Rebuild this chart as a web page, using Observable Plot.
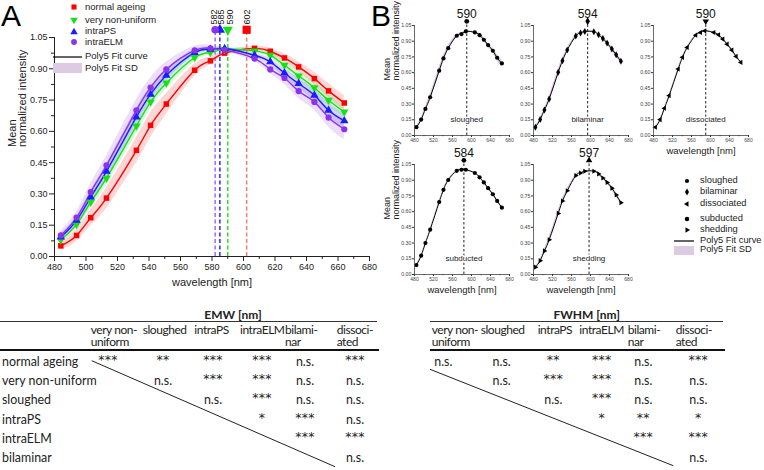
<!DOCTYPE html>
<html><head><meta charset="utf-8">
<script src="https://cdn.jsdelivr.net/npm/d3@7"></script>
<script src="https://cdn.jsdelivr.net/npm/@observablehq/plot@0.6"></script>
<style>
body{margin:0;background:#fff;}
#root{position:relative;width:764px;height:470px;overflow:hidden;font-family:"Liberation Sans",Arial,sans-serif;color:#111;}
#root > *{position:absolute;}
.tbl{font-family:Lato,"Open Sans",sans-serif;font-size:12.4px;color:#222;white-space:nowrap;}
.hdr{font-family:Lato,"Open Sans",sans-serif;font-size:12px;color:#222;white-space:pre;letter-spacing:-0.45px;line-height:12px;}
.star{font-family:"DejaVu Sans",sans-serif;font-size:12.5px;color:#222;white-space:nowrap;letter-spacing:0.2px;}
</style></head><body><div id="root"></div>
<script>
// ---------------- DATA ----------------
const wavelengths = [484,494,503,513,532,541,551,569,579,588,607,617,626,635,645,654,664];

// Panel A
const namesA = ["normal ageing","very non-uniform","intraPS","intraELM"];
const normalAgeing    = [0.051,0.101,0.186,0.280,0.509,0.629,0.731,0.893,0.938,0.975,0.998,0.984,0.952,0.909,0.853,0.794,0.736];
const veryNonUniform  = [0.080,0.154,0.261,0.376,0.626,0.741,0.832,0.954,0.978,0.993,0.986,0.965,0.917,0.866,0.809,0.749,0.693];
const intraPS         = [0.093,0.173,0.285,0.408,0.669,0.778,0.869,0.978,0.993,0.997,0.965,0.933,0.880,0.829,0.773,0.701,0.650];
const intraELM        = [0.101,0.186,0.309,0.437,0.701,0.810,0.897,0.988,0.998,0.990,0.949,0.897,0.856,0.793,0.741,0.666,0.610];
const normalAgeingSD   = [0.020,0.030,0.040,0.050,0.060,0.060,0.050,0.030,0.020,0.012,0.010,0.015,0.020,0.025,0.030,0.035,0.035];
const veryNonUniformSD = [0.015,0.020,0.030,0.035,0.040,0.035,0.030,0.020,0.010,0.006,0.010,0.015,0.020,0.025,0.030,0.030,0.030];
const intraPSSD        = [0.015,0.020,0.030,0.035,0.040,0.035,0.030,0.015,0.010,0.006,0.010,0.015,0.020,0.025,0.030,0.035,0.035];
const intraELMSD       = [0.020,0.030,0.040,0.045,0.050,0.045,0.035,0.020,0.012,0.010,0.015,0.020,0.030,0.035,0.040,0.045,0.050];
const peaksA = [602,590,585,582];
const xTicksA = [480,500,520,540,560,580,600,620,640,660,680];
const yTicksA = [0,0.15,0.30,0.45,0.60,0.75,0.90,1.05];

// Panel B
const namesB = ["sloughed","bilaminar","dissociated","subducted","shedding"];
const sloughed    = [0.079,0.152,0.254,0.365,0.619,0.736,0.834,0.952,0.968,0.993,0.984,0.958,0.914,0.863,0.809,0.742,0.688];
const bilaminar   = [0.079,0.152,0.244,0.349,0.603,0.714,0.815,0.949,0.978,0.993,0.990,0.961,0.926,0.882,0.825,0.771,0.708];
const dissociated = [0.079,0.152,0.260,0.381,0.635,0.746,0.841,0.958,0.983,0.999,0.983,0.961,0.920,0.872,0.815,0.755,0.698];
const subducted   = [0.090,0.180,0.300,0.428,0.692,0.808,0.902,0.990,1.000,1.000,0.969,0.928,0.879,0.824,0.766,0.702,0.638];
const shedding    = [0.070,0.132,0.225,0.332,0.583,0.702,0.799,0.944,0.969,0.986,0.986,0.960,0.921,0.879,0.824,0.760,0.686];
const sloughedSD    = [0.010,0.015,0.020,0.030,0.035,0.030,0.025,0.015,0.010,0.006,0.010,0.015,0.020,0.020,0.025,0.030,0.030];
const bilaminarSD   = [0.010,0.012,0.018,0.025,0.030,0.025,0.020,0.012,0.008,0.005,0.008,0.012,0.015,0.018,0.020,0.022,0.022];
const dissociatedSD = [0.006,0.008,0.010,0.012,0.014,0.012,0.010,0.008,0.006,0.005,0.006,0.008,0.010,0.010,0.012,0.012,0.012];
const subductedSD   = [0.006,0.008,0.010,0.012,0.014,0.012,0.010,0.008,0.006,0.005,0.006,0.008,0.010,0.012,0.014,0.014,0.014];
const sheddingSD    = [0.010,0.012,0.018,0.025,0.030,0.025,0.020,0.012,0.008,0.005,0.008,0.012,0.015,0.018,0.020,0.022,0.022];
const peaksB = [590,594,590,584,597];
const xTicksB = [480,520,560,600,640,680];
const yTicksB = [0,0.15,0.30,0.45,0.60,0.75,0.90,1.05];

// Tables
const tableRows = ["normal ageing","very non-uniform","sloughed","intraPS","intraELM","bilaminar"];
const tableCols = ["very non-\nuniform","sloughed","intraPS","intraELM","bilami-\nnar","dissoci-\nated"];
const emwTitle = "EMW [nm]";
const fwhmTitle = "FWHM [nm]";
const emw = [
 ["***","**","***","***","n.s.","***"],
 ["","n.s.","***","***","n.s.","n.s."],
 ["","","n.s.","***","n.s.","n.s."],
 ["","","","*","***","n.s."],
 ["","","","","***","***"],
 ["","","","","","n.s."]];
const fwhm = [
 ["n.s.","n.s.","**","***","n.s.","***"],
 ["","n.s.","***","***","n.s.","n.s."],
 ["","","n.s.","***","n.s.","n.s."],
 ["","","","*","**","*"],
 ["","","","","***","***"],
 ["","","","","","n.s."]];

// ---------------- STYLE ----------------
const colorsA = ["#ff0000","#17e017","#1c1cff","#8a33e8"];
const dashColorsA = ["#ff7a7a","#2fe02f","#2a2aff","#a56cf0"];
const symbolsA = ["square","triangle","triangle","circle"];
const rotA = [0,180,0,0];
const labelDxA = [0.5,2,1.5,-1.5];
const symbolsB = ["circle","diamond","triangle","circle","triangle"];
const rotB = [0,0,-90,0,90];
const peakSymB = ["circle","diamond","triangle","circle","triangle"];
const peakRotB = [0,0,180,0,0];
const FONT = "Liberation Sans, Arial, sans-serif";

const root = document.getElementById("root");
function place(el, left, top){ el.style.position="absolute"; el.style.left=left+"px"; el.style.top=top+"px"; root.appendChild(el); return el; }

function rowsFor(name, vals, sd, rot){
  return wavelengths.map((w,i)=>({series:name, w, v:vals[i], lo:vals[i]-sd[i], hi:vals[i]+sd[i], rot}));
}

// ---------------- PANEL A ----------------
const valuesA = [normalAgeing, veryNonUniform, intraPS, intraELM];
const sdA = [normalAgeingSD, veryNonUniformSD, intraPSSD, intraELMSD];
const dataA = namesA.flatMap((n,k)=>rowsFor(n, valuesA[k], sdA[k], rotA[k]));
const minorX = xTicksA.slice(0,-1).map((t,i)=>(t+xTicksA[i+1])/2);
const minorY = yTicksA.slice(0,-1).map((t,i)=>(t+yTicksA[i+1])/2);

const plotA = Plot.plot({
  width: 400, height: 300,
  marginLeft: 54, marginRight: 31, marginTop: 37, marginBottom: 44,
  x: {domain:[480,680]}, y: {domain:[0,1.05]},
  color: {domain: namesA, range: colorsA},
  symbol: {domain: namesA, range: symbolsA},
  style: {fontFamily: FONT, fontSize: "9px", background: "transparent", color:"#222"},
  marks: [
    Plot.areaY(dataA, {x:"w", y1:"lo", y2:"hi", z:"series", fill:"series", fillOpacity:0.16, curve:"natural"}),
    ...peaksA.map((p,k)=>Plot.ruleX([p], {y1:0, y2:1.087, stroke:dashColorsA[k], strokeWidth:1.5, strokeDasharray:"4,2.5"})),
    Plot.line(dataA, {x:"w", y:"v", z:"series", stroke:"series", strokeWidth:1.4, curve:"natural"}),
    Plot.dot(dataA, {x:"w", y:"v", fill:"series", symbol:"series", rotate:"rot", r:3.1}),
    ...peaksA.map((p,k)=>Plot.dot([p], {x:d=>d, y:1.087, fill:colorsA[k], symbol:symbolsA[k], rotate:rotA[k], r: k===0?4.6:3.8})),
    ...peaksA.map((p,k)=>Plot.text([p], {x:d=>d, y:1.112, dx:labelDxA[k], text:d=>String(d), rotate:-90, textAnchor:"start", fontSize:9, fill:"#111"})),
    Plot.axisX({ticks: xTicksA, tickSize:5, tickPadding:2, label:null, fontSize:9}),
    Plot.axisX({ticks: minorX, tickSize:3, tickFormat:()=>"", label:null}),
    Plot.axisY({ticks: yTicksA, tickSize:5, tickPadding:2, tickFormat: d3.format(".2f"), label:null, fontSize:9}),
    Plot.axisY({ticks: minorY, tickSize:3, tickFormat:()=>"", label:null}),
    Plot.ruleX([480], {y1:0, y2:1.05, stroke:"#222"}),
    Plot.ruleY([0], {x1:480, x2:680, stroke:"#222"}),
    Plot.text(["wavelength [nm]"], {frameAnchor:"bottom", lineAnchor:"middle", dy:26, fontSize:11, fill:"#222"}),
    Plot.text(["Mean\nnormalized intensity"], {frameAnchor:"left", dx:-37, rotate:-90, fontSize:11, lineHeight:0.98, fill:"#222"})
  ]
});
place(plotA, 0, 0);

// Legends
function symbolSvg(type, rot, color, size, w, h){
  const s = d3.create("svg").attr("width", w).attr("height", h);
  const map = {square:d3.symbolSquare, triangle:d3.symbolTriangle, circle:d3.symbolCircle, diamond:d3.symbolDiamond};
  s.append("path").attr("d", d3.symbol(map[type], size)()).attr("fill", color)
    .attr("transform", `translate(${w/2},${h/2}) rotate(${rot})`);
  return s.node();
}
function legend(items, markerX, textX, lineX, fontSize){
  items.forEach(it=>{
    if (it.kind==="sym"){
      place(symbolSvg(it.sym, it.rot, it.color, it.size, 12, 12), markerX-6, it.y-6);
    } else if (it.kind==="line"){
      const s = d3.create("svg").attr("width", lineX[1]-lineX[0]).attr("height", 4);
      s.append("line").attr("x1",0).attr("x2",lineX[1]-lineX[0]).attr("y1",2).attr("y2",2).attr("stroke","#111").attr("stroke-width",1.3);
      place(s.node(), lineX[0], it.y-2);
    } else {
      const d = document.createElement("div");
      d.style.width=(lineX[1]-lineX[0])+"px"; d.style.height=it.h+"px"; d.style.background="#dccbe3";
      place(d, lineX[0], it.y-it.h/2);
    }
    const t = document.createElement("div");
    t.textContent = it.label; t.style.fontSize = fontSize+"px"; t.style.lineHeight="1"; t.style.whiteSpace="nowrap"; t.style.color="#222";
    place(t, textX, it.y - fontSize*0.55);
  });
}
legend([
  {kind:"sym", sym:"square", rot:0, color:colorsA[0], size:26, y:7.3, label:namesA[0]},
  {kind:"sym", sym:"triangle", rot:180, color:colorsA[1], size:24, y:20, label:namesA[1]},
  {kind:"sym", sym:"triangle", rot:0, color:colorsA[2], size:24, y:31.7, label:namesA[2]},
  {kind:"sym", sym:"circle", rot:0, color:colorsA[3], size:26, y:42.3, label:namesA[3]},
  {kind:"line", y:56.7, label:"Poly5 Fit curve"},
  {kind:"rect", y:68.3, h:10, label:"Poly5 Fit SD"}
], 74, 85, [53,82], 9.5);

// ---------------- PANEL B ----------------
const valuesB = [sloughed, bilaminar, dissociated, subducted, shedding];
const sdB = [sloughedSD, bilaminarSD, dissociatedSD, subductedSD, sheddingSD];
const minorXB = xTicksB.slice(0,-1).map((t,i)=>(t+xTicksB[i+1])/2);
function smallPlot(k, ml, ylab, xlab){
  const rows = rowsFor(namesB[k], valuesB[k], sdB[k], rotB[k]);
  const p = peaksB[k];
  const rPt = symbolsB[k]==="triangle" ? 1.9 : 2.1;
  const marks = [
    Plot.areaY(rows, {x:"w", y1:"lo", y2:"hi", fill:"#c4a3d3", fillOpacity:0.55, curve:"natural"}),
    Plot.ruleX([p], {y1:0, y2:1.07, stroke:"#222", strokeWidth:1, strokeDasharray:"2.5,2"}),
    Plot.line(rows, {x:"w", y:"v", stroke:"#000", strokeWidth:1, curve:"natural"}),
    Plot.dot(rows, {x:"w", y:"v", fill:"#000", symbol:()=>symbolsB[k], rotate:"rot", r:rPt}),
    Plot.dot([p], {x:d=>d, y:1.09, fill:"#000", symbol:()=>peakSymB[k], rotate:peakRotB[k], r:2.4}),
    Plot.text([p], {x:d=>d, y:1.163, text:d=>String(d), fontSize:12, fill:"#111"}),
    Plot.text([namesB[k]], {x:p, frameAnchor:"bottom", lineAnchor:"middle", dy:-16, fontSize:8, fill:"#222", stroke:"white", strokeWidth:3}),
    Plot.axisX({ticks:xTicksB, tickSize:2, tickPadding:1, label:null, fontSize:5, fill:"#444"}),
    Plot.axisX({ticks:minorXB, tickSize:1.2, tickFormat:()=>"", label:null}),
    Plot.axisY({ticks:yTicksB, tickSize:2, tickPadding:1, tickFormat:d3.format(".2f"), label:null, fontSize:5.3, fill:"#444"}),
    Plot.ruleX([480], {y1:0, y2:1.05, stroke:"#444", strokeWidth:0.8}),
    Plot.ruleY([0], {x1:480, x2:680, stroke:"#444", strokeWidth:0.8})
  ];
  if (ylab) marks.push(Plot.text(["Mean\nnormalized intensity"], {frameAnchor:"left", dx:-22.5, rotate:-90, fontSize:9, fill:"#222"}));
  if (xlab) marks.push(Plot.text(["wavelength [nm]"], {frameAnchor:"bottom", lineAnchor:"middle", dy:15, fontSize:9.5, fill:"#222"}));
  return Plot.plot({
    width: ml+95+8, height: 25+110+24,
    marginLeft: ml, marginRight: 8, marginTop: 25, marginBottom: 24,
    x:{domain:[480,680]}, y:{domain:[0,1.05]},
    symbol:{type:"identity"},
    style:{fontFamily:FONT, background:"transparent", color:"#333"},
    marks
  });
}
const ml1 = 34, ml2 = 16;
place(smallPlot(0, ml1, true, false), 414-ml1, 0);
place(smallPlot(1, ml2, false, false), 533-ml2, 0);
place(smallPlot(2, ml2, false, true), 653-ml2, 0);
place(smallPlot(3, ml1, true, true), 414-ml1, 139);
place(smallPlot(4, ml2, false, true), 533-ml2, 139);

legend([
  {kind:"sym", sym:"circle", rot:0, color:"#000", size:14, y:180.7, label:namesB[0]},
  {kind:"sym", sym:"diamond", rot:0, color:"#000", size:14, y:192.3, label:namesB[1]},
  {kind:"sym", sym:"triangle", rot:-90, color:"#000", size:12, y:204.3, label:namesB[2]},
  {kind:"sym", sym:"circle", rot:0, color:"#000", size:16, y:219, label:namesB[3]},
  {kind:"sym", sym:"triangle", rot:90, color:"#000", size:12, y:230, label:namesB[4]},
  {kind:"line", y:240.7, label:"Poly5 Fit curve"},
  {kind:"rect", y:250.5, h:9, label:"Poly5 Fit SD"}
], 687, 700, [674,694], 9.3);

// Panel letters
["A","B"].forEach((L,i)=>{
  const d=document.createElement("div"); d.textContent=L;
  d.style.fontSize="30px"; d.style.lineHeight="1"; d.style.color="#000";
  place(d, i===0?1:371, 1);
});

// ---------------- TABLES ----------------
const rowY = tableRows.map((r,i)=>361.5 + i*19.35);
function makeTable(opts){
  const {title, titleX, lineX, headerX, cellX, cells, withRows, diag} = opts;
  const t = document.createElement("div"); t.className="tbl"; t.textContent=title;
  t.style.fontWeight="bold"; t.style.fontSize="12px"; t.style.transform="translate(-50%,-50%)"; t.style.lineHeight="1";
  place(t, titleX, 315);
  const thin = document.createElement("div"); thin.style.width=(lineX[1]-lineX[0])+"px"; thin.style.height="1px"; thin.style.background="#333";
  place(thin, lineX[0], 321);
  const thick = document.createElement("div"); thick.style.width=(lineX[1]-lineX[0]+2)+"px"; thick.style.height="2px"; thick.style.background="#111";
  place(thick, lineX[0], 349);
  tableCols.forEach((c,j)=>{
    const h=document.createElement("div"); h.className="hdr";
    h.textContent=c; place(h, headerX[j], 324);
  });
  if (withRows) tableRows.forEach((r,i)=>{
    const d=document.createElement("div"); d.className="tbl"; d.textContent=r; d.style.lineHeight="1";
    d.style.transform="translateY(-50%)"; place(d, 2, rowY[i]);
  });
  cells.forEach((row,i)=>row.forEach((v,j)=>{
    if(!v) return;
    const isStar = v.startsWith("*");
    const d=document.createElement("div"); d.className= isStar ? "star" : "tbl"; d.textContent=v; d.style.lineHeight="1";
    d.style.transform= isStar ? "translate(-50%,-62%)" : "translate(-50%,-50%)"; place(d, cellX[j], rowY[i]);
  }));
  const s = d3.create("svg").attr("width",764).attr("height",470).style("pointer-events","none");
  s.append("line").attr("x1",diag[0]).attr("y1",diag[1]).attr("x2",diag[2]).attr("y2",diag[3]).attr("stroke","#222").attr("stroke-width",1);
  place(s.node(), 0, 0);
}
makeTable({title:emwTitle, titleX:233, lineX:[0,377], headerX:[90.7,142.7,194.3,240,285,336.7],
  cellX:[108,163,213,262,305,355], cells:emw, withRows:true, diag:[91.7,360.7,335,466.7]});
makeTable({title:fwhmTitle, titleX:586.7, lineX:[430,723], headerX:[431.7,480.7,537.7,579.3,627.7,675.7],
  cellX:[443.3,501.7,553.3,601.7,643.3,698.3], cells:fwhm, withRows:false, diag:[430,369.3,673.3,465.7]});
</script></body></html>
